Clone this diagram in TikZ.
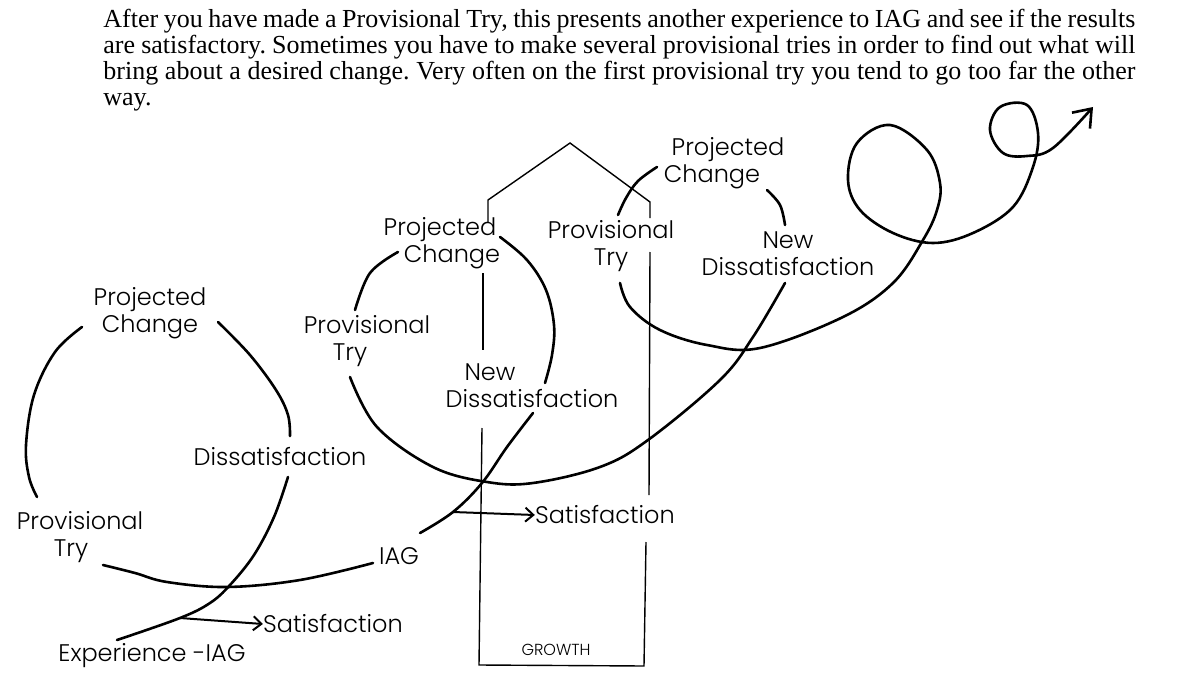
\documentclass[tikz,border=0pt]{standalone}
\usepackage{fontspec}
\setmainfont{Liberation Serif}
\newfontfamily\handfont{Poppins Light}
\usetikzlibrary{arrows.meta}

\begin{document}
\begin{tikzpicture}[x=0.5pt, y=-0.5pt,
  hand/.style={font=\handfont\fontsize{12}{13.5}\selectfont, align=center, inner sep=0pt},
  curve/.style={line width=1.3pt, line cap=round},
  wall/.style={line width=0.7pt},
  barb/.style={-{Straight Barb[length=4pt, width=7pt]}, line width=1pt}]

  \useasboundingbox (0,0) rectangle (1204,674);

  % the paragraph on top
  \node[anchor=north west, inner sep=0pt, text width=516pt, align=justify,
        font=\fontsize{13}{12.9}\selectfont\frenchspacing] (para) at (103,9)
    {After you have made a Provisional Try, this presents another experience to IAG and see if the results\linebreak
     are satisfactory. Sometimes you have to make several provisional tries in order to find out what will\linebreak
     bring about a desired change. Very often on the first provisional try you tend to go too far the other\linebreak
     way.};

  % first cycle (left)
  \node[hand] (lpc) at (150,313) {Projected\\Change};
  \node[hand] (ldis) at (280,457) {Dissatisfaction};
  \node[hand] (lpt) at (80,537) {Provisional\\Try\hspace*{9pt}};
  \node[hand] (iag) at (399,556) {IAG};
  \node[hand] (lsat) at (333,624) {Satisfaction};
  \node[hand] (exp) at (152,656) {Experience -IAG};

  % second cycle (middle)
  \node[hand] (mpc) at (452,243) {Projected\hspace*{12pt}\\Change};
  \node[hand] (mpt) at (367,341) {Provisional\\Try\hspace*{17pt}};
  \node[hand] (mnd) at (532,386) {New\hspace*{42pt}\\Dissatisfaction};
  \node[hand] (msat) at (605,515) {Satisfaction};

  % third cycle (right)
  \node[hand] (rpc) at (728,163) {Projected\\Change\hspace*{16pt}};
  \node[hand] (rpt) at (611,246) {Provisional\\Try};
  \node[hand] (rnd) at (788,254) {New\\Dissatisfaction};

  \node[hand, font=\handfont\fontsize{8}{9}\selectfont] (growth) at (556,650) {GROWTH};

  % ends of the strokes, next to the words
  \coordinate (lpc-w) at (82,327);   \coordinate (lpt-n) at (37,497);
  \coordinate (lpc-e) at (218,322);  \coordinate (ldis-n) at (290,436);
  \coordinate (exp-e) at (117,640);  \coordinate (ldis-s) at (288,477);
  \coordinate (lsat-a) at (180,618);
  \coordinate (lpt-e) at (103,565);  \coordinate (iag-w) at (373,563);
  \coordinate (iag-e) at (420,533);  \coordinate (mnd-s) at (533,413);
  \coordinate (msat-a) at (453,512);
  \coordinate (mnd-e) at (545,383);  \coordinate (mpc-e) at (500,237);
  \coordinate (mpc-w) at (398,252);  \coordinate (mpt-n) at (355,310);
  \coordinate (mpt-s) at (350,377);  \coordinate (rnd-s) at (785,283);
  \coordinate (rnd-n) at (785,225);  \coordinate (rpc-e) at (767,190);
  \coordinate (rpc-w) at (657,167);  \coordinate (rpt-n) at (618,215);
  \coordinate (rpt-s) at (620,283);  \coordinate (out) at (1093,107);

  % left cycle strokes
  \draw[curve] plot[smooth, tension=0.6] coordinates {(lpc-w) (55,352) (34,395) (26,445) (29,477) (lpt-n)};
  \draw[curve] plot[smooth, tension=0.6] coordinates {(lpc-e) (250,355) (276,390) (288,415) (ldis-n)};
  \draw[curve] plot[smooth, tension=0.6] coordinates {(exp-e) (lsat-a) (210,603) (230,585) (254,555) (274,517) (ldis-s)};
  \draw[curve] plot[smooth, tension=0.6] coordinates {(lpt-e) (135,573) (167,582) (227,587) (300,580) (iag-w)};
  \draw[curve] plot[smooth, tension=0.6] coordinates {(iag-e) (msat-a) (482,483) (507,447) (mnd-s)};
  \draw[barb] (lsat-a) -- (lsat.west);
  \draw[barb] (msat-a) -- (msat.west);

  % middle cycle strokes
  \draw[curve] plot[smooth, tension=0.6] coordinates {(mnd-e) (552,355) (554,325) (546,290) (527,260) (mpc-e)};
  \draw[curve] plot[smooth, tension=0.6] coordinates {(mpc-w) (370,273) (mpt-n)};
  \draw[curve] plot[smooth, tension=0.6] coordinates {(mpt-s) (377,427) (433,467) (487,482) (533,483) (600,467) (648,440) (720,380) (753,337) (rnd-s)};

  % right cycle strokes and the way out
  \draw[curve] plot[smooth, tension=0.6] coordinates {(rnd-n) (780,205) (rpc-e)};
  \draw[curve] plot[smooth, tension=0.6] coordinates {(rpc-w) (638,181) (626,198) (rpt-n)};
  \draw[curve, -{Straight Barb[length=8pt, width=12pt]}] plot[smooth, tension=0.6] coordinates {(rpt-s) (630,307) (660,330) (707,345) (760,348)
    (843,317) (893,283) (923,240) (937,210) (940,183) (927,150) (890,125) (857,143) (848,180) (860,210) (893,233) (933,243)
    (973,233) (1013,207) (1033,167) (1038,133) (1027,105) (1000,107) (990,130) (1003,153) (1027,156) (1053,148) (out)};

  % growth house
  \draw[wall] (488,222) -- (488,200) -- (570,143) -- (650,202) -- (650,218);
  \draw[wall] (483,273) -- (483,350);
  \draw[wall] (482,428) -- (479,665) -- (644,666) -- (646,542);
  \draw[wall] (650,252) -- (649,495);

\end{tikzpicture}
\end{document}
